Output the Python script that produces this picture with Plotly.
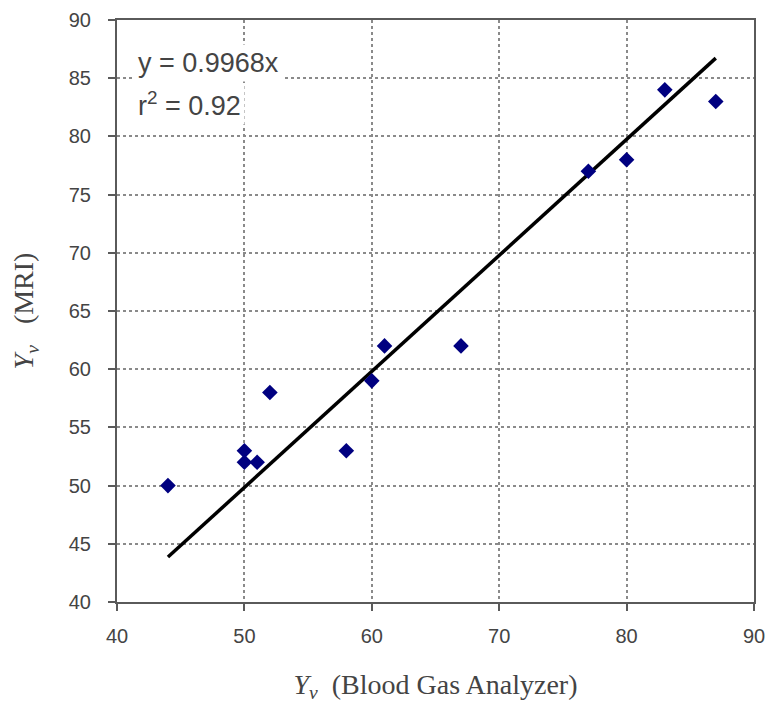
import plotly.graph_objects as go

bga = [44, 50, 50, 51, 52, 58, 60, 61, 67, 77, 80, 83, 87]
mri = [50, 53, 52, 52, 58, 53, 59, 62, 62, 77, 78, 84, 83]
slope = 0.9968
fit_x = [44, 87]
fit_y = [slope * v for v in fit_x]
x_ticks = [40, 50, 60, 70, 80, 90]
y_ticks = [40, 45, 50, 55, 60, 65, 70, 75, 80, 85, 90]

fig = go.Figure()
fig.add_trace(go.Scatter(x=fit_x, y=fit_y, mode="lines",
                         line=dict(color="black", width=3.5), showlegend=False))
fig.add_trace(go.Scatter(x=bga, y=mri, mode="markers",
                         marker=dict(symbol="diamond", size=12, color="#000080",
                                     line=dict(width=0)), showlegend=False))

axis_common = dict(showgrid=True, gridcolor="#8a8a8a", griddash="dot", gridwidth=1.5,
                   showline=True, linecolor="#5a5a5a", linewidth=2, mirror=True,
                   ticks="outside", ticklen=7, tickcolor="#5a5a5a", tickwidth=1.5,
                   zeroline=False, automargin=False,
                   tickfont=dict(family="Liberation Sans, Arial", size=20, color="#444"))

fig.update_xaxes(range=[40, 90], tickvals=x_ticks, ticklabelstandoff=8, **axis_common,
                 title=dict(text="<i>Y<sub>v</sub></i>&nbsp;&nbsp;(Blood Gas Analyzer)",
                            font=dict(family="Liberation Serif, Times New Roman", size=28, color="#444"),
                            standoff=28))
fig.update_yaxes(range=[40, 90], tickvals=y_ticks, ticklabelstandoff=13, **axis_common,
                 title=dict(text="<i>Y<sub>v</sub></i>&nbsp;&nbsp;&nbsp;(MRI)",
                            font=dict(family="Liberation Serif, Times New Roman", size=28, color="#444"),
                            standoff=27))

fig.add_annotation(x=0.027, y=0.926, xref="paper", yref="paper", xanchor="left", yanchor="middle",
                   text="y = 0.9968x", showarrow=False, align="left",
                   bgcolor="white", borderpad=3,
                   font=dict(family="Liberation Sans, Arial", size=27, color="#444"))
fig.add_annotation(x=0.027, y=0.855, xref="paper", yref="paper", xanchor="left", yanchor="middle",
                   text="r<sup>2</sup> = 0.92", showarrow=False, align="left",
                   bgcolor="white", borderpad=3,
                   font=dict(family="Liberation Sans, Arial", size=27, color="#444"))

fig.update_layout(width=769, height=713, margin=dict(l=117, r=15, t=20, b=111),
                  plot_bgcolor="white", paper_bgcolor="white")

fig.write_html("out.html")
